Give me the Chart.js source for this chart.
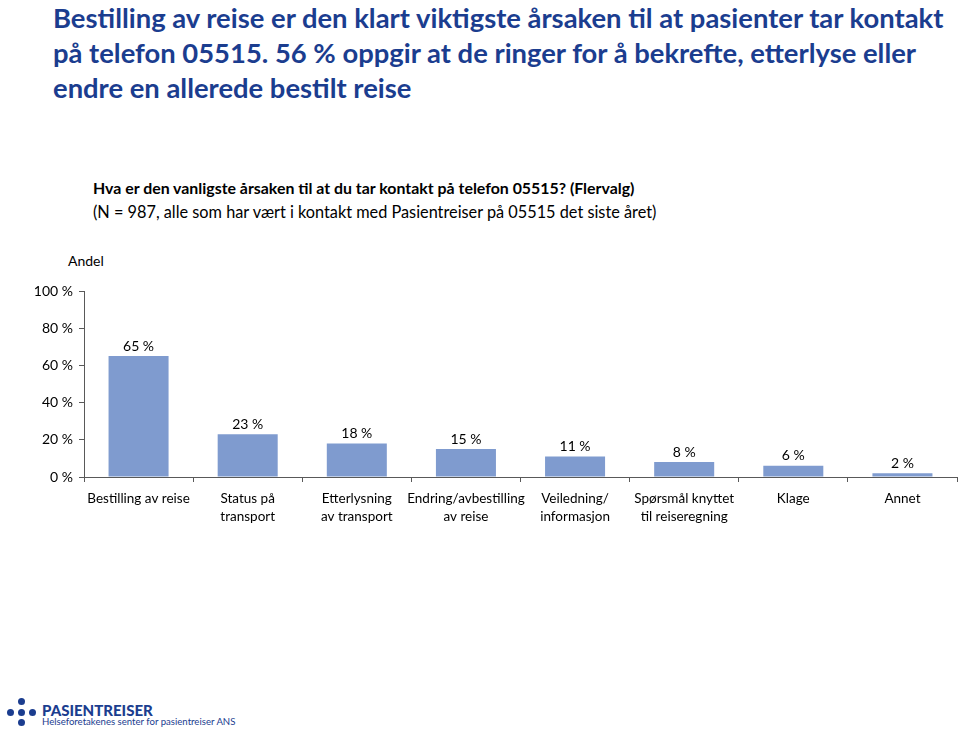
<!DOCTYPE html>
<html><head><meta charset="utf-8">
<script src="https://cdn.jsdelivr.net/npm/chart.js@4"></script>
<style>
html,body{margin:0;padding:0;background:#fff;width:960px;height:735px;overflow:hidden;font-family:Lato,sans-serif;}
.t{position:absolute;left:53px;top:0px;color:#1b3d8f;font-weight:700;font-size:27.4px;line-height:35px;white-space:nowrap;}
.s{position:absolute;left:93px;top:176px;color:#000;line-height:24px;white-space:nowrap;}
.s b{font-size:15.9px;}
.s span{font-size:16.3px;}
.andel{position:absolute;left:68px;top:252px;font-size:14px;color:#000;}
#wrap{position:absolute;left:0;top:240px;width:960px;height:300px;}
.lt1{position:absolute;left:42px;top:701px;color:#1b3d8f;font-weight:900;font-size:15px;white-space:nowrap;}
.lt2{position:absolute;left:42px;top:716px;color:#1b3d8f;font-size:9.6px;white-space:nowrap;}
.dot{position:absolute;width:7px;height:7px;border-radius:50%;background:#1b3d8f;}
</style></head>
<body>
<div class="t">Bestilling av reise er den klart viktigste årsaken til at pasienter tar kontakt<br>på telefon 05515. 56 % oppgir at de ringer for å bekrefte, etterlyse eller<br>endre en allerede bestilt reise</div>
<div class="s"><b>Hva er den vanligste årsaken til at du tar kontakt på telefon 05515? (Flervalg)</b><br><span>(N = 987, alle som har vært i kontakt med Pasientreiser på 05515 det siste året)</span></div>
<div class="andel">Andel</div>
<div id="wrap"><canvas id="c" width="960" height="300"></canvas></div>
<div class="dot" style="left:18px;top:698px"></div>
<div class="dot" style="left:7px;top:709px"></div>
<div class="dot" style="left:18px;top:709px"></div>
<div class="dot" style="left:29px;top:709px"></div>
<div class="dot" style="left:18px;top:719px"></div>
<div class="lt1">PASIENTREISER</div>
<div class="lt2">Helseforetakenes senter for pasientreiser ANS</div>
<script>
const categories = [["Bestilling av reise"],["Status på","transport"],["Etterlysning","av transport"],["Endring/avbestilling","av reise"],["Veiledning/","informasjon"],["Spørsmål knyttet","til reiseregning"],["Klage"],["Annet"]];
const values = [65, 23, 18, 15, 11, 8, 6, 2];
const yTicks = [0, 20, 40, 60, 80, 100];

const labelPlugin = {
  id: 'vals',
  afterDatasetsDraw(chart) {
    const ctx = chart.ctx;
    const meta = chart.getDatasetMeta(0);
    ctx.save();
    ctx.font = '14px Lato';
    ctx.fillStyle = '#000';
    ctx.textAlign = 'center';
    ctx.textBaseline = 'bottom';
    meta.data.forEach((bar, i) => {
      ctx.fillText(values[i] + ' %', bar.x, bar.y - 3);
    });
    ctx.restore();
  }
};

new Chart(document.getElementById('c'), {
  type: 'bar',
  data: { labels: categories, datasets: [{ data: values, backgroundColor: '#7f9bcf', borderWidth: 0, categoryPercentage: 0.55, barPercentage: 1 }] },
  options: {
    responsive: false, animation: false,
    layout: { padding: { top: 51, right: 3, left: 0, bottom: 0 } },
    plugins: { legend: { display: false }, tooltip: { enabled: false } },
    scales: {
      x: {
        grid: { drawOnChartArea: false, tickLength: 5, color: '#595959', offset: true },
        border: { color: '#595959', width: 1 },
        ticks: { font: { family: 'Lato', size: 13.5, lineHeight: 1.33 }, color: '#000', padding: 8, maxRotation: 0, autoSkip: false },
        afterFit(s) { s.height = 63; }
      },
      y: {
        min: 0, max: 100,
        afterBuildTicks(s) { s.ticks = yTicks.map(v => ({ value: v })); },
        grid: { drawOnChartArea: false, tickLength: 5, color: '#595959' },
        border: { color: '#595959', width: 1 },
        ticks: { font: { family: 'Lato', size: 14 }, color: '#000', padding: 6, callback: v => v + ' %' },
        afterFit(s) { s.width = 84; }
      }
    }
  },
  plugins: [labelPlugin]
});
</script>
</body></html>
